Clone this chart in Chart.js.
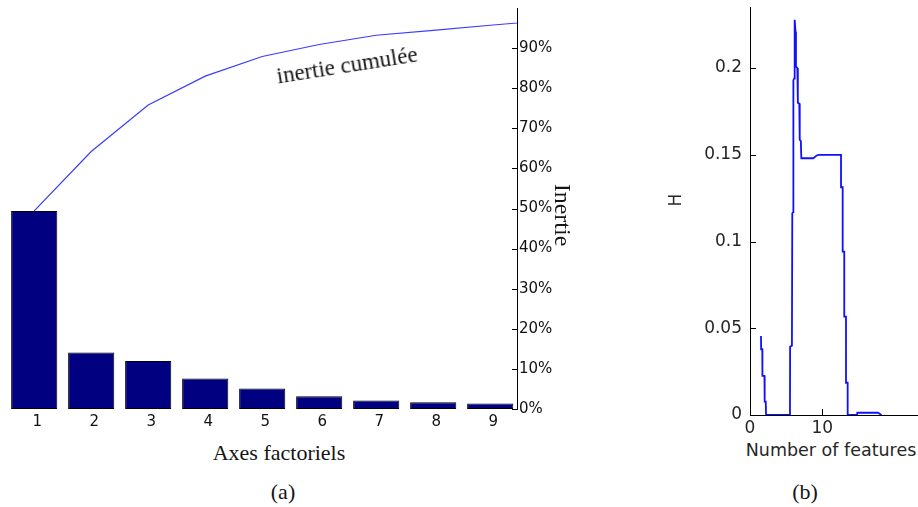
<!DOCTYPE html>
<html><head><meta charset="utf-8">
<script src="https://cdn.jsdelivr.net/npm/chart.js@4.4.1/dist/chart.umd.min.js"></script>
<style>
html,body{margin:0;padding:0;background:#fff}
#root{position:relative;width:918px;height:507px;overflow:hidden;background:#fff}
canvas{position:absolute;top:0}
.lbl{position:absolute;white-space:nowrap;line-height:1}
.serif{font-family:"Liberation Serif","Times New Roman",serif;color:#151515}
.sans{font-family:"DejaVu Sans",sans-serif;color:#262626}
</style></head>
<body><div id="root">
<canvas id="ca" width="600" height="432" style="left:0"></canvas>
<canvas id="cb" width="258" height="440" style="left:660px"></canvas>
<div class="lbl serif" style="left:347px;top:65px;font-size:23px;transform:translate(-50%,-50%) rotate(-9deg)">inertie cumulée</div>
<div class="lbl serif" style="left:563px;top:215px;font-size:24px;transform:translate(-50%,-50%) rotate(90deg)">Inertie</div>
<div class="lbl serif" style="left:279px;top:453px;font-size:22px;transform:translate(-50%,-50%)">Axes factoriels</div>
<div class="lbl serif" style="left:283px;top:492px;font-size:22px;transform:translate(-50%,-50%)">(a)</div>
<div class="lbl serif" style="left:805px;top:492px;font-size:22px;transform:translate(-50%,-50%)">(b)</div>
<div class="lbl sans" style="left:675px;top:200px;font-size:17px;transform:translate(-50%,-50%) rotate(-90deg)">H</div>
<div class="lbl sans" style="left:831px;top:451px;font-size:17.5px;transform:translate(-50%,-50%)">Number of features</div>
</div>
<script>
// ---- Panel (a) data ----
const axisLabels = [1,2,3,4,5,6,7,8,9];
const inertiaPct = [49.4,14.1,12.0,7.6,5.1,3.2,2.1,1.7,1.4];
const cumulAxes = [1,2,3,4,5,6,7,8,9,10];
const cumulPct = [49.4,64.2,75.8,83.0,87.9,90.9,93.2,94.4,95.7,96.9];
const pctTicks = [0,10,20,30,40,50,60,70,80,90];

// ---- Panel (b) data ----
const featureX = [1.52,1.54,1.70,1.72,2.00,2.03,2.18,2.22,
                  5.53,5.55,5.80,5.85,5.97,6.00,6.12,6.18,
                  6.30,6.36,6.55,6.62,6.82,6.88,7.03,7.10,
                  8.76,9.20,9.45,
                  12.59,12.59,12.82,12.82,13.04,13.04,13.28,13.28,13.51,13.51,
                  14.80,14.85,17.70,18.20];
const hValues = [0.0456,0.0379,0.0379,0.0225,0.0225,0.0077,0.0077,0,
                 0,0.0394,0.040,0.1163,0.117,0.193,0.194,0.2278,
                 0.221,0.2009,0.200,0.180,0.1795,0.1586,0.158,0.148,
                 0.148,0.1495,0.150,
                 0.150,0.1313,0.1313,0.0942,0.0942,0.0567,0.0567,0.0186,0.0186,0,
                 0,0.0013,0.0013,0];
const hTicks = [0,0.05,0.1,0.15,0.2];
const hTickLabels = ['0','0.05','0.1','0.15','0.2'];
const featureTicks = [0,10];
const featureTickLabels = ['0','10'];

Chart.defaults.animation = false;
Chart.defaults.responsive = false;
Chart.defaults.plugins.legend.display = false;
Chart.defaults.plugins.tooltip.enabled = false;

function noPad(s) { s.paddingTop = 0; s.paddingBottom = 0; s.paddingLeft = 0; s.paddingRight = 0; }

// inward tick marks, placed through the chart's own scales
const innerTicks = {
  id: 'innerTicks',
  afterDatasetsDraw(chart, args, opts) {
    const ctx = chart.ctx;
    ctx.save();
    ctx.strokeStyle = '#000';
    ctx.lineWidth = 1;
    (opts.items || []).forEach(it => {
      const s = chart.scales[it.axis];
      s.ticks.forEach(t => {
        const p = Math.round(s.getPixelForValue(t.value)) + 0.5;
        ctx.beginPath();
        if (it.edge === 'left') { const x = s.left; ctx.moveTo(x, p); ctx.lineTo(x - it.len, p); }
        else if (it.edge === 'right') { const x = s.right; ctx.moveTo(x, p); ctx.lineTo(x + it.len, p); }
        else if (it.edge === 'top') { const y = s.top; ctx.moveTo(p, y); ctx.lineTo(p, y - it.len); }
        ctx.stroke();
      });
    });
    ctx.restore();
  }
};

new Chart(document.getElementById('ca'), {
  type: 'bar',
  data: {
    datasets: [
      {
        type: 'line',
        data: cumulAxes.map((x, i) => ({x, y: cumulPct[i]})),
        borderColor: '#3b3bff',
        borderWidth: 1.2,
        pointRadius: 0,
        tension: 0,
        clip: 0,
        order: 0
      },
      {
        type: 'bar',
        data: axisLabels.map((x, i) => ({x, y: inertiaPct[i]})),
        backgroundColor: '#000080',
        borderColor: '#000000',
        borderWidth: 1,
        borderSkipped: false,
        barPercentage: 1,
        categoryPercentage: 0.81,
        order: 1
      }
    ]
  },
  options: {
    layout: {padding: {top: 8, left: 0, right: 0, bottom: 0}},
    scales: {
      x: {
        type: 'linear', position: 'bottom', min: 0.4, max: 9.47, offset: false,
        grid: {display: false, drawTicks: false},
        border: {display: false},
        afterBuildTicks: s => { s.ticks = axisLabels.map(v => ({value: v})); },
        afterFit: s => { s.height = 23; noPad(s); },
        ticks: {padding: 4, labelOffset: 3, color: '#111', font: {family: 'DejaVu Sans', size: 15}, maxRotation: 0,
                callback: v => String(v)}
      },
      y: {
        type: 'linear', position: 'right', min: 0, max: 100,
        grid: {display: false, drawTicks: false},
        border: {display: true, color: '#000', width: 1},
        afterBuildTicks: s => { s.ticks = pctTicks.map(v => ({value: v})); },
        afterFit: s => { s.width = 83; noPad(s); },
        ticks: {padding: 2, color: '#111', font: {family: 'DejaVu Sans', size: 15},
                callback: v => v + '%'}
      }
    },
    plugins: {innerTicks: {items: [{axis: 'y', edge: 'left', len: 5}]}}
  },
  plugins: [innerTicks]
});

new Chart(document.getElementById('cb'), {
  type: 'line',
  data: {
    datasets: [{
      data: featureX.map((x, i) => ({x, y: hValues[i]})),
      borderColor: '#1010ff',
      borderWidth: 1.8,
      pointRadius: 0,
      tension: 0
    }]
  },
  options: {
    layout: {padding: {top: 7, left: 0, right: 0, bottom: 0}},
    scales: {
      x: {
        type: 'linear', position: 'bottom', min: 0, max: 23.24,
        grid: {display: false, drawTicks: false},
        border: {display: true, color: '#000', width: 1},
        afterBuildTicks: s => { s.ticks = featureTicks.map(v => ({value: v})); },
        afterFit: s => { s.height = 25; noPad(s); },
        ticks: {padding: 3, color: '#262626', font: {family: 'DejaVu Sans', size: 17}, maxRotation: 0,
                callback: v => featureTickLabels[featureTicks.indexOf(v)]}
      },
      y: {
        type: 'linear', position: 'left', min: 0, max: 0.2352,
        grid: {display: false, drawTicks: false},
        border: {display: true, color: '#000', width: 1},
        afterBuildTicks: s => { s.ticks = hTicks.map(v => ({value: v})); },
        afterFit: s => { s.width = 90; noPad(s); },
        ticks: {padding: 8, color: '#262626', font: {family: 'DejaVu Sans', size: 17},
                callback: v => hTickLabels[hTicks.indexOf(v)]}
      }
    },
    plugins: {innerTicks: {items: [{axis: 'y', edge: 'right', len: 6}, {axis: 'x', edge: 'top', len: 6}]}}
  },
  plugins: [innerTicks]
});
</script>
</body></html>
